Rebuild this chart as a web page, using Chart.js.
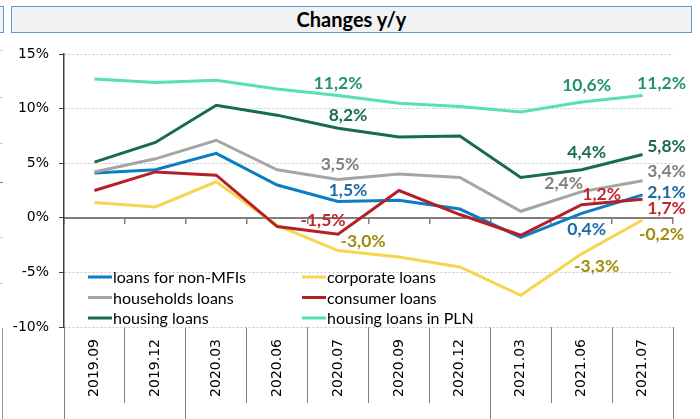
<!DOCTYPE html>
<html>
<head>
<meta charset="utf-8">
<script src="https://cdn.jsdelivr.net/npm/chart.js@4.4.0/dist/chart.umd.min.js"></script>
<style>
    html, body { margin: 0; padding: 0; background: #fff; }
    #wrap { position: relative; width: 700px; height: 419px; overflow: hidden; }
    #title {
        position: absolute; left: 11px; top: 6px; width: 681px; height: 27px;
        box-sizing: border-box; background: #f2f2f2; border: 1.5px solid #5b9bd5;
        font: bold 20px Lato, sans-serif; color: #000; text-align: center; line-height: 24px;
    }
    #prevBox {
        position: absolute; left: -20px; top: 6px; width: 24px; height: 27px;
        box-sizing: border-box; background: #f2f2f2; border: 1.5px solid #5b9bd5;
    }
    .dash { position: absolute; left: 0; width: 3px; height: 1px; background: #d0d0d0; }
    #edgeLine { position: absolute; left: 2px; top: 328px; width: 1px; height: 91px; background: #999; }
    canvas { position: absolute; left: 0; top: 0; }
</style>
</head>
<body>
<div id="wrap">
    <div id="prevBox"></div>
    <div class="dash" style="top:50px"></div>
    <div class="dash" style="top:97px"></div>
    <div class="dash" style="top:143px"></div>
    <div class="dash" style="top:182px;background:#777"></div>
    <div class="dash" style="top:237px"></div>
    <div class="dash" style="top:283px"></div>
    <div id="edgeLine"></div>
    <canvas id="chart" width="700" height="419"></canvas>
    <div id="title">Changes y/y</div>
</div>
<script>
// dane (%)
const categories = ['2019.09', '2019.12', '2020.03', '2020.06', '2020.07', '2020.09', '2020.12', '2021.03', '2021.06', '2021.07'];
const loansNonMFI     = [4.1, 4.4, 5.9, 3.0, 1.5, 1.6, 0.8, -1.8, 0.4, 2.1];
const corporateLoans  = [1.4, 1.0, 3.3, -0.7, -3.0, -3.6, -4.5, -7.1, -3.3, -0.2];
const householdsLoans = [4.2, 5.4, 7.1, 4.4, 3.5, 4.0, 3.7, 0.6, 2.4, 3.4];
const consumerLoans   = [2.5, 4.2, 3.9, -0.8, -1.5, 2.5, 0.3, -1.6, 1.2, 1.7];
const housingLoans    = [5.1, 6.9, 10.3, 9.4, 8.2, 7.4, 7.5, 3.7, 4.4, 5.8];
const housingLoansPLN = [12.7, 12.4, 12.6, 11.8, 11.2, 10.5, 10.2, 9.7, 10.6, 11.2];
const yTicks = [-10, -5, 0, 5, 10, 15];

const seriesNames = ['loans for non-MFIs', 'corporate loans', 'households loans', 'consumer loans', 'housing loans', 'housing loans in PLN'];
const seriesData = [loansNonMFI, corporateLoans, householdsLoans, consumerLoans, housingLoans, housingLoansPLN];
const lineColors = ['#0b7dc5', '#f6d64e', '#a5a5a5', '#b51f27', '#176b4f', '#58debb'];
const labelColors = ['#1c6aa6', '#a38b0c', '#808080', '#c1272d', '#1b6b4f', '#21916f'];

// etykiety wartości: indeks punktu i przesunięcie [dx, dy] w px
const labelSpots = [
    { 4: [10, -11], 8: [5, 16], 9: [24, -3] },
    { 4: [25, -9], 8: [15, 13], 9: [19, 14] },
    { 4: [2, -15], 8: [-18, -8], 9: [24, -9] },
    { 4: [-15, -14], 8: [20, -10], 9: [24, 9] },
    { 4: [10, -13], 8: [5, -17], 9: [24, -8] },
    { 4: [0, -12], 8: [5, -17], 9: [19, -12] }
];

const fmt = v => v.toFixed(1).replace('.', ',') + '%';

const valueLabels = {
    id: 'valueLabels',
    afterDatasetsDraw(chart) {
        const ctx = chart.ctx;
        ctx.save();
        ctx.font = 'bold 17.5px Lato';
        ctx.textAlign = 'center';
        ctx.textBaseline = 'middle';
        chart.data.datasets.forEach((ds, di) => {
            const meta = chart.getDatasetMeta(di);
            Object.keys(labelSpots[di]).forEach(k => {
                const i = Number(k);
                const pt = meta.data[i];
                const off = labelSpots[di][k];
                ctx.fillStyle = labelColors[di];
                ctx.fillText(fmt(ds.data[i]), pt.x + off[0], pt.y + off[1]);
            });
        });
        ctx.restore();
    }
};

// legenda w obszarze wykresu, 2 kolumny
const innerLegend = {
    id: 'innerLegend',
    afterDatasetsDraw(chart) {
        const ctx = chart.ctx;
        const area = chart.chartArea;
        const colX = [area.left + 24, area.left + 238];
        ctx.save();
        ctx.font = '16px Lato';
        ctx.textBaseline = 'middle';
        seriesNames.forEach((name, i) => {
            const x = colX[i % 2];
            const y = area.top + 223 + Math.floor(i / 2) * 20.5;
            ctx.strokeStyle = lineColors[i];
            ctx.lineWidth = 3;
            ctx.beginPath();
            ctx.moveTo(x, y);
            ctx.lineTo(x + 24, y);
            ctx.stroke();
            ctx.fillStyle = '#000';
            ctx.fillText(name, x + 25, y + 1);
        });
        ctx.restore();
    }
};

document.addEventListener('DOMContentLoaded', function() {
    const datasets = seriesNames.map((name, i) => ({
        label: name,
        data: seriesData[i],
        xAxisID: 'x',
        borderColor: lineColors[i],
        backgroundColor: lineColors[i],
        borderWidth: 3,
        pointRadius: 0,
        tension: 0,
        fill: false,
        order: seriesNames.length - i
    }));

    new Chart(document.getElementById('chart'), {
        type: 'line',
        data: { labels: categories, datasets: datasets },
        options: {
            responsive: false,
            devicePixelRatio: 1,
            animation: false,
            layout: { padding: { top: 54, right: 27, left: 0, bottom: 0 } },
            plugins: { legend: { display: false }, tooltip: { enabled: false } },
            scales: {
                x: {
                    type: 'category', axis: 'x',
                    position: { y: 0 },
                    offset: true,
                    ticks: { display: false },
                    grid: { offset: true, drawOnChartArea: false, tickLength: 5, color: '#7f7f7f', lineWidth: 1.5 },
                    border: { display: true, color: '#7f7f7f', width: 2 }
                },
                xb: {
                    type: 'category', axis: 'x',
                    position: 'bottom',
                    offset: true,
                    afterFit: s => { s.height = 92; },
                    ticks: {
                        minRotation: 90, maxRotation: 90, autoSkip: false, padding: 12,
                        color: '#000', font: { family: 'DejaVu Sans', size: 14 }
                    },
                    grid: { display: false, drawTicks: false },
                    border: { display: false }
                },
                xs: {
                    type: 'category', axis: 'x',
                    position: { y: -10 },
                    offset: true,
                    ticks: { display: false },
                    grid: { offset: true, drawOnChartArea: false, tickLength: 76, color: '#7f7f7f', lineWidth: 1 },
                    border: { display: false }
                },
                xg: {
                    type: 'category', axis: 'x',
                    position: { y: -10 },
                    offset: true,
                    ticks: { display: false },
                    grid: {
                        offset: true, drawOnChartArea: false, tickLength: 92, lineWidth: 1,
                        color: c => (c.type !== 'tick' || [0, 2, 7].includes(c.index)) ? '#7f7f7f' : 'rgba(0,0,0,0)'
                    },
                    border: { display: false }
                },
                y: {
                    min: yTicks[0], max: yTicks[yTicks.length - 1],
                    afterFit: s => { s.width = 64; },
                    afterBuildTicks: s => { s.ticks = yTicks.map(v => ({ value: v })); },
                    ticks: {
                        callback: v => v + '%', padding: 10,
                        color: '#000', font: { family: 'DejaVu Sans', size: 14 }
                    },
                    grid: {
                        color: c => c.tick && c.tick.value === 0 ? 'rgba(0,0,0,0)' : '#c8c8c8',
                        lineWidth: 1, tickLength: 5, tickColor: '#404040', tickBorderDash: []
                    },
                    border: { display: true, color: '#404040', width: 1.5, dash: [2, 2] }
                }
            }
        },
        plugins: [valueLabels, innerLegend]
    });
});
</script>
</body>
</html>
